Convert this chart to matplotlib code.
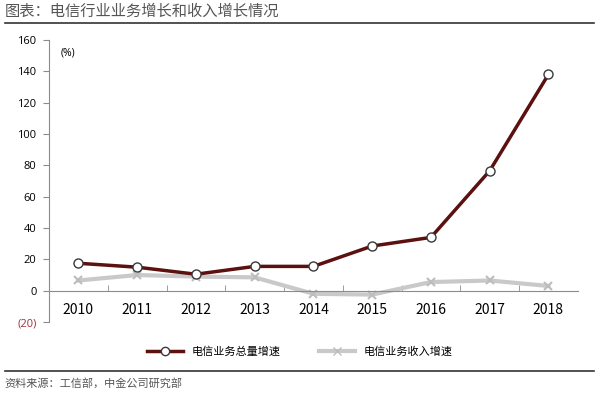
import matplotlib
matplotlib.use("Agg")
import matplotlib.pyplot as plt
from matplotlib.lines import Line2D

plt.rcParams["font.family"] = ["Noto Sans CJK SC", "DejaVu Sans"]

years = ["2010", "2011", "2012", "2013", "2014", "2015", "2016", "2017", "2018"]
volume_growth = [17.5, 15.0, 10.5, 15.5, 15.5, 28.5, 34.0, 76.5, 138.0]
revenue_growth = [6.5, 10.0, 9.0, 8.5, -2.0, -2.5, 5.5, 6.5, 3.0]
y_ticks = [-20, 0, 20, 40, 60, 80, 100, 120, 140, 160]
y_labels = ["(20)", "0", "20", "40", "60", "80", "100", "120", "140", "160"]
series_names = ["电信业务总量增速", "电信业务收入增速"]

title = "图表：电信行业业务增长和收入增长情况"
source = "资料来源：工信部，中金公司研究部"

dark_red = "#5c1010"
light_gray = "#c9c9c9"
axis_gray = "#8c8c8c"

fig = plt.figure(figsize=(6.0, 3.94), dpi=100)
ax = fig.add_axes([0.0817, 0.1827, 0.8813, 0.7158])

x = list(range(len(years)))
ax.plot(x, revenue_growth, color=light_gray, lw=3, marker="x", ms=6,
        mew=1.5, mec="#bdbdbd", zorder=2)
ax.plot(x, volume_growth, color=dark_red, lw=2.5, marker="o", ms=6.5,
        mfc="white", mec="#3a3a3a", mew=1.0, zorder=3)

ax.set_xlim(-0.5, len(years) - 0.5)
ax.set_ylim(-20, 160)
ax.set_yticks(y_ticks)
ax.set_yticklabels(y_labels, fontfamily=["Open Sans", "DejaVu Sans"], fontsize=8)
ax.get_yticklabels()[0].set_color("#a0303a")

ax.set_xticks(x)
ax.set_xticklabels(years, fontfamily=["Open Sans", "DejaVu Sans"], fontsize=7.5)
ax.set_xticks([i - 0.5 for i in range(1, len(years))], minor=True)
ax.tick_params(axis="x", which="major", length=0, pad=9)
ax.tick_params(axis="x", which="minor", length=4, direction="in", color=axis_gray)
ax.tick_params(axis="y", length=4, direction="out", color=axis_gray, pad=5)

for side in ["top", "right"]:
    ax.spines[side].set_visible(False)
ax.spines["bottom"].set_position(("data", 0))
ax.spines["bottom"].set_color(axis_gray)
ax.spines["left"].set_color(axis_gray)

ax.text(0.022, 0.975, "(%)", transform=ax.transAxes, fontsize=7.5,
        fontfamily=["Open Sans", "DejaVu Sans"], va="top", ha="left")

handles = [
    Line2D([], [], color=dark_red, lw=2.5, marker="o", ms=6, mfc="white", mec="#3a3a3a"),
    Line2D([], [], color=light_gray, lw=3, marker="x", ms=6, mec="#bdbdbd"),
]
fig.legend(handles, series_names, loc="center", bbox_to_anchor=(0.5, 0.107),
           ncol=2, frameon=False, fontsize=8, columnspacing=3.5, handlelength=3.2)

fig.text(0.008, 0.972, title, fontsize=11, color="#555555", ha="left", va="center",
         style="italic")
fig.add_artist(Line2D([0.008, 0.99], [0.942, 0.942], color="#333333", lw=1.2,
                      transform=fig.transFigure))
fig.add_artist(Line2D([0.008, 0.99], [0.058, 0.058], color="#333333", lw=1.2,
                      transform=fig.transFigure))
fig.text(0.008, 0.027, source, fontsize=8, color="#555555", ha="left", va="center",
         style="italic")

fig.savefig("out.png", dpi=100)
